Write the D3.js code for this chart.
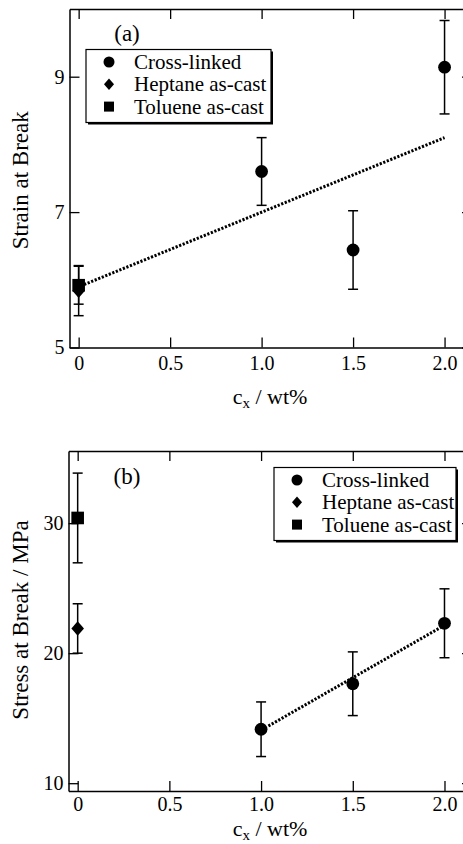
<!DOCTYPE html>
<html>
<head>
<meta charset="utf-8">
<script src="https://cdn.jsdelivr.net/npm/d3@7"></script>
<style>
  body { margin: 0; background: #fff; }
  svg { display: block; }
</style>
</head>
<body>
<div id="chart"></div>
<script>
// data
var xTicks = [0, 0.5, 1.0, 1.5, 2.0];
var xTickLabels = ["0", "0.5", "1.0", "1.5", "2.0"];

// panel (a) strain at break
var strainCross = [
  {x: 1.0, y: 7.6, e: 0.5},
  {x: 1.5, y: 6.44, e: 0.58},
  {x: 2.0, y: 9.14, e: 0.69}
];
var strainHeptane = [{x: 0, y: 5.84, e: 0.37}];
var strainToluene = [{x: 0, y: 5.92, e: 0.28}];
var strainFit = [{x: 0.03, y: 5.93}, {x: 2.0, y: 8.1}];
var strainTicks = [5, 7, 9];

// panel (b) stress at break
var stressCross = [
  {x: 1.0, y: 14.15, e: 2.1},
  {x: 1.5, y: 17.65, e: 2.45},
  {x: 2.0, y: 22.3, e: 2.65}
];
var stressHeptane = [{x: 0, y: 21.9, e: 1.9}];
var stressToluene = [{x: 0, y: 30.4, e: 3.45}];
var stressFit = [{x: 1.04, y: 14.4}, {x: 2.0, y: 22.15}];
var stressTicks = [10, 20, 30];

var legendLabels = ["Cross-linked", "Heptane as-cast", "Toluene as-cast"];

var FONT = "'Liberation Serif', 'DejaVu Serif', 'Times New Roman', serif";
var W = 463, H = 844;
var svg = d3.select("#chart").append("svg")
    .attr("width", W)
    .attr("height", H)
    .attr("font-family", FONT);

function txt(sel, size) {
  return sel.style("font-family", FONT).style("font-size", size + "px").attr("fill", "#000");
}

// marker shapes
function marker(g, type, cx, cy, s) {
  if (type === "circle") {
    g.append("circle").attr("cx", cx).attr("cy", cy).attr("r", s).attr("fill", "#000");
  } else if (type === "diamond") {
    g.append("path")
      .attr("d", "M" + cx + "," + (cy - s * 1.15) + "L" + (cx + s) + "," + cy +
                 "L" + cx + "," + (cy + s * 1.15) + "L" + (cx - s) + "," + cy + "Z")
      .attr("fill", "#000");
  } else {
    g.append("rect").attr("x", cx - s).attr("y", cy - s)
      .attr("width", 2 * s).attr("height", 2 * s).attr("fill", "#000");
  }
}

function panel(opt) {
  var g = svg.append("g");
  var x = d3.scaleLinear().domain([-0.05, 2.15]).range([opt.left, 472]);
  var y = d3.scaleLinear().domain(opt.yDomain).range([opt.bottom, opt.top]);

  // axes with inward ticks
  g.append("g").attr("transform", "translate(0," + opt.bottom + ")")
    .call(d3.axisBottom(x).tickValues(xTicks).tickSizeInner(-10).tickSizeOuter(0).tickPadding(opt.xPad)
      .tickFormat(function(d, i) { return xTickLabels[i]; }));
  g.append("g").attr("transform", "translate(0," + opt.top + ")")
    .call(d3.axisTop(x).tickValues(xTicks).tickSizeInner(-10).tickSizeOuter(0).tickFormat(""));
  g.append("g").attr("transform", "translate(" + opt.left + ",0)")
    .call(d3.axisLeft(y).tickValues(opt.yTicks).tickSizeInner(-10).tickSizeOuter(0).tickPadding(5)
      .tickFormat(d3.format("d")));
  g.append("g").attr("transform", "translate(472,0)")
    .call(d3.axisRight(y).tickValues(opt.yTicks).tickSizeInner(-10).tickSizeOuter(0).tickFormat(""));
  g.selectAll(".domain").attr("stroke", "#000").attr("stroke-width", 1.5);
  g.selectAll(".tick line").attr("stroke", "#000").attr("stroke-width", 1.3);
  txt(g.selectAll(".tick text"), 20);

  // fit line
  g.append("path")
    .datum(opt.fit)
    .attr("d", d3.line().x(function(d) { return x(d.x); }).y(function(d) { return y(d.y); }))
    .attr("fill", "none")
    .attr("stroke", "#000")
    .attr("stroke-width", 3)
    .attr("stroke-dasharray", "2.2,1.6");

  // error bars and markers
  var series = [
    {data: opt.toluene, type: "square", s: 6.3},
    {data: opt.heptane, type: "diamond", s: 6.3},
    {data: opt.cross, type: "circle", s: 6.4}
  ];
  series.forEach(function(sr) {
    sr.data.forEach(function(d) {
      var cx = x(d.x);
      g.append("line").attr("x1", cx).attr("x2", cx)
        .attr("y1", y(d.y - d.e)).attr("y2", y(d.y + d.e))
        .attr("stroke", "#000").attr("stroke-width", 1.5);
      [d.y - d.e, d.y + d.e].forEach(function(v) {
        g.append("line").attr("x1", cx - 5).attr("x2", cx + 5)
          .attr("y1", y(v)).attr("y2", y(v))
          .attr("stroke", "#000").attr("stroke-width", 1.5);
      });
    });
  });
  series.forEach(function(sr) {
    sr.data.forEach(function(d) { marker(g, sr.type, x(d.x), y(d.y), sr.s); });
  });

  // panel tag
  txt(g.append("text").attr("x", 127).attr("y", opt.tagY)
    .attr("text-anchor", "middle"), 23).text(opt.tag);

  // legend with drop shadow
  var lg = g.append("g");
  var L = opt.legend;
  lg.append("rect").attr("x", L.x + 2).attr("y", L.y + 2).attr("width", L.w).attr("height", L.h).attr("fill", "#000");
  lg.append("rect").attr("x", L.x).attr("y", L.y).attr("width", L.w).attr("height", L.h)
    .attr("fill", "#fff").attr("stroke", "#000").attr("stroke-width", 1.2);
  var types = ["circle", "diamond", "square"];
  var sizes = [5.5, 5, 5];
  legendLabels.forEach(function(lbl, i) {
    var ry = L.y + 12.5 + i * 22.3;
    marker(lg, types[i], L.mx, ry, sizes[i]);
    txt(lg.append("text").attr("x", L.tx).attr("y", ry + 7), 21).text(lbl);
  });

  // axis titles
  txt(g.append("text")
    .attr("transform", "translate(" + opt.yTitleX + "," + ((opt.top + opt.bottom) / 2 + opt.yTitleShift) + ") rotate(-90)")
    .attr("text-anchor", "middle"), 23).text(opt.yTitle);
  var xt = txt(g.append("text").attr("x", 270).attr("y", opt.xTitleY)
    .attr("text-anchor", "middle"), 22);
  xt.append("tspan").text("c");
  xt.append("tspan").attr("dy", 4).style("font-size", "15px").text("x");
  xt.append("tspan").attr("dy", -4).text(" / wt%");
}

panel({
  top: 9, bottom: 347.5, left: 69.5,
  yDomain: [5, 10], yTicks: strainTicks,
  cross: strainCross, heptane: strainHeptane, toluene: strainToluene, fit: strainFit,
  tag: "(a)", tagY: 41, xPad: 8,
  legend: {x: 86, y: 49.5, w: 185, h: 73, mx: 109, tx: 134},
  yTitle: "Strain at Break", yTitleX: 28, yTitleShift: 2,
  xTitleY: 404
});

panel({
  top: 451, bottom: 791, left: 68.5,
  yDomain: [9.4, 35.55], yTicks: stressTicks,
  cross: stressCross, heptane: stressHeptane, toluene: stressToluene, fit: stressFit,
  tag: "(b)", tagY: 484, xPad: 6,
  legend: {x: 274, y: 467.5, w: 182, h: 73, mx: 297, tx: 322},
  yTitle: "Stress at Break / MPa", yTitleX: 28, yTitleShift: -1,
  xTitleY: 836
});
</script>
</body>
</html>
